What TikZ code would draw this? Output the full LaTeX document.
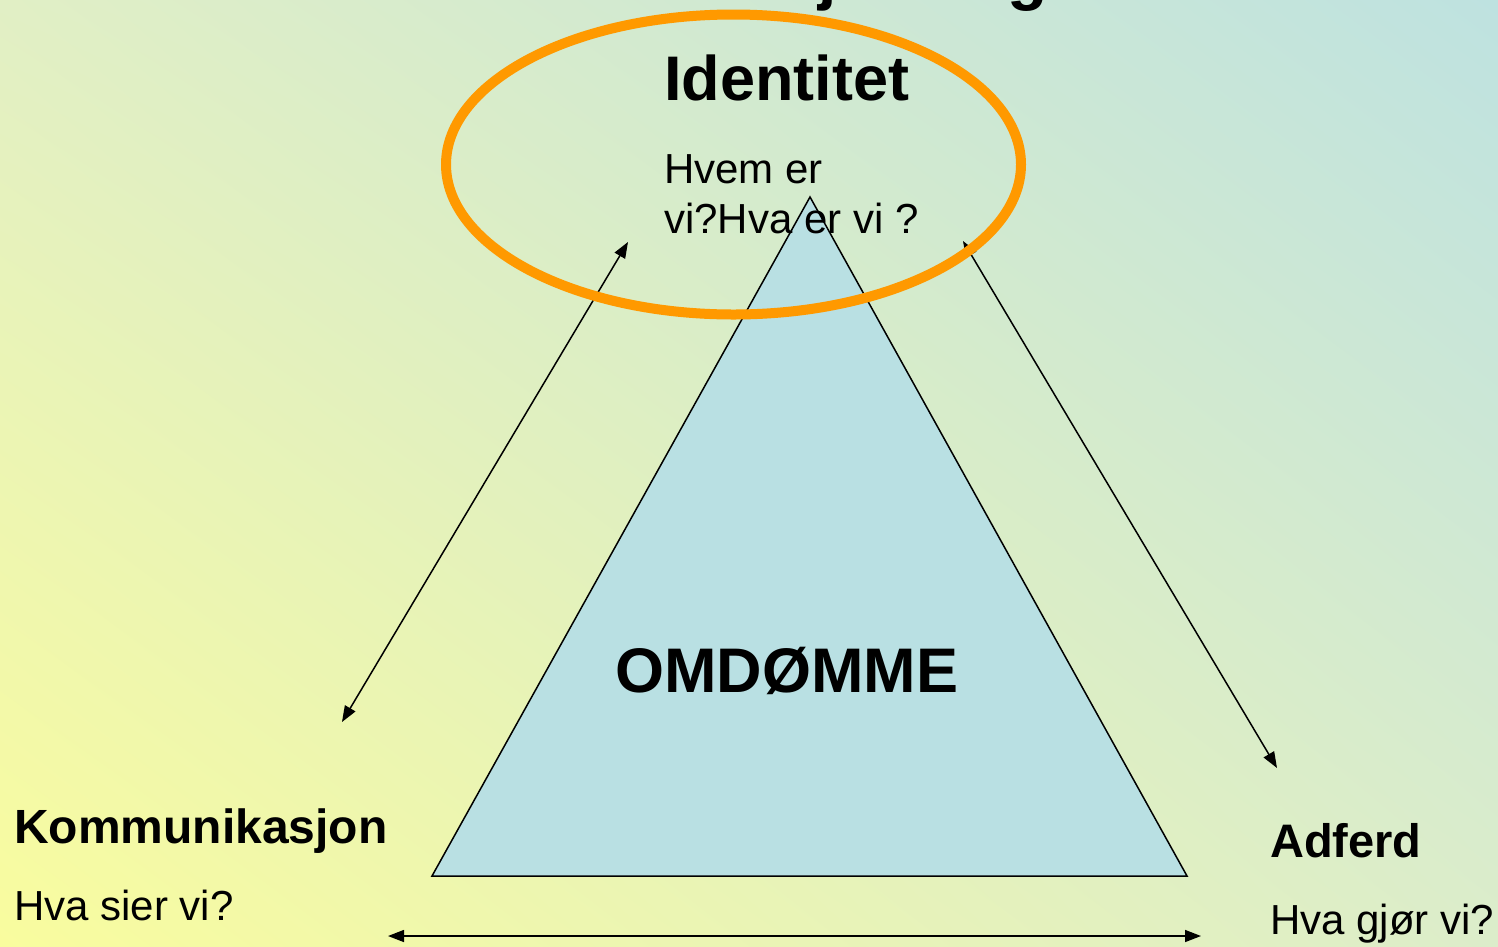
\documentclass[tikz,border=0pt]{standalone}
\usepackage{fontspec}
\setmainfont{Liberation Sans}
\usetikzlibrary{arrows.meta,shadings}
\definecolor{bgLL}{HTML}{F9FC9E}
\definecolor{bgUL}{HTML}{E1EFC5}
\definecolor{bgUR}{HTML}{BEE2E0}
\definecolor{bgLR}{HTML}{DCEDCA}
\definecolor{triblue}{HTML}{B9E0E3}
\definecolor{ringorange}{HTML}{FF9900}
\tikzset{
  boldtxt/.style={font=\bfseries\fontsize{#1}{#1}\selectfont, inner sep=0pt, anchor=base west, text=black},
  regtxt/.style={font=\fontsize{42}{50}\selectfont, inner sep=0pt, anchor=base west, text=black},
  dblarrow/.style={line width=1.5pt, {Triangle[length=16pt,width=12pt]}-{Triangle[length=16pt,width=12pt]}},
}
\begin{document}
\begin{tikzpicture}[x=1pt,y=-1pt]
\useasboundingbox (0,0) rectangle (1498,946);
\shade[lower left=bgLL, upper left=bgUL, upper right=bgUR, lower right=bgLR] (0,0) rectangle (1498,946);
% partially visible title
\node[boldtxt=66] (tj) at (818,-3) {j};
\node[boldtxt=66] (tg) at (1007,-3) {g};
% triangle
\coordinate (apex) at (810,197);
\coordinate (bl) at (432,876);
\coordinate (br) at (1187,876);
\draw[fill=triblue, line width=1.5pt, line join=miter] (apex) -- (bl) -- (br) -- cycle;
% arrows
\coordinate (la1) at (628,242);
\coordinate (la2) at (342,722);
\coordinate (ra1) at (963,241);
\coordinate (ra2) at (1277,768);
\coordinate (ba1) at (388,936);
\coordinate (ba2) at (1201,936);
\draw[dblarrow] (la1) -- (la2);
\draw[dblarrow] (ra1) -- (ra2);
\draw[dblarrow] (ba1) -- (ba2);
% ring
\draw[ringorange, line width=10pt] (733.5,164.5) ellipse [x radius=287.5pt, y radius=150pt];
% texts
\node[boldtxt=63] (ident) at (664,100) {Identitet};
\node[regtxt] (hvem1) at (664,183) {Hvem er};
\node[regtxt] (hvem2) at (664,233) {vi?Hva er vi ?};
\node[boldtxt=63] (omd) at (615,692) {OMDØMME};
\node[boldtxt=48] (komm) at (14,843) {Kommunikasjon};
\node[regtxt] (komq) at (14,920) {Hva sier vi?};
\node[boldtxt=47] (adf) at (1270,857) {Adferd};
\node[regtxt] (adfq) at (1270,934) {Hva gjør vi?};
\end{tikzpicture}
\end{document}
